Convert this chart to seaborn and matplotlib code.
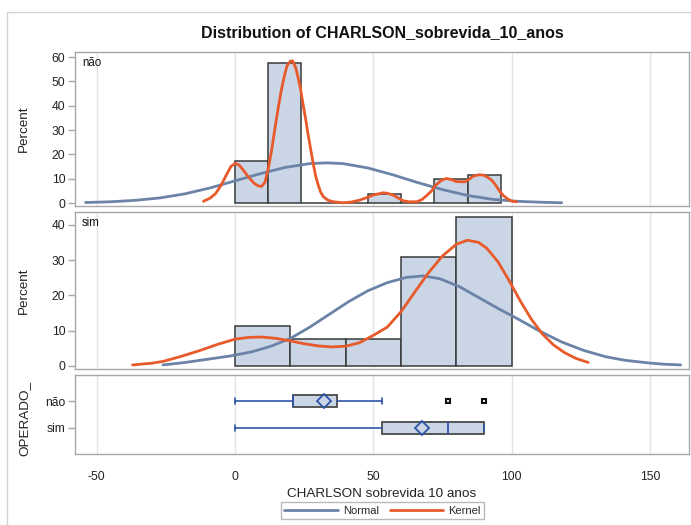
import numpy as np
import matplotlib
matplotlib.use("Agg")
import matplotlib.pyplot as plt
from matplotlib.lines import Line2D
from matplotlib.patches import Rectangle
import seaborn as sns

sns.set_style("white")
plt.rcParams["font.family"] = ["Liberation Sans", "DejaVu Sans"]

# ---- data -------------------------------------------------------------
groups = ["não", "sim"]

# histogram: percent per bin
nao_edges = [0, 12, 24, 36, 48, 60, 72, 84, 96]
nao_pct = [17.2, 57.7, 0.0, 0.0, 3.7, 0.0, 9.7, 11.5]
sim_edges = [0, 20, 40, 60, 80, 100]
sim_pct = [11.3, 7.6, 7.6, 30.8, 42.2]

# fitted normal curves (percent scale)
nao_norm_x = [-54, -45, -36, -27, -18, -9, 0, 9, 18, 27, 33, 39, 48, 57, 66, 75, 84, 93, 102, 111, 118]
nao_norm_y = [0.2, 0.5, 1.1, 2.1, 3.8, 6.2, 9.1, 12.0, 14.6, 16.2, 16.5, 16.2, 14.4, 11.6, 8.4, 5.5, 3.1, 1.5, 0.7, 0.3, 0.1]
sim_norm_x = [-26, -18, -10, -2, 6, 13, 20, 27, 34, 41, 48, 55, 62, 68, 74, 81, 88, 95, 102, 110, 118, 126, 134, 141, 149, 155, 161]
sim_norm_y = [0.3, 1.0, 1.9, 2.8, 4.0, 5.6, 7.8, 11.0, 14.6, 18.2, 21.3, 23.6, 25.1, 25.5, 24.7, 22.5, 19.4, 16.3, 13.4, 9.9, 6.8, 4.4, 2.6, 1.6, 0.9, 0.5, 0.3]

# kernel density curves (percent scale)
nao_kde_x = [-11.4, -9, -7, -5, -3, -1.5, 0, 1.5, 3, 5, 7, 8.5, 9.6, 10.8, 12, 13.2, 14.4, 15.6,
             16.8, 18, 18.8, 20, 20.8, 21.9, 22.8, 23.7, 24.6, 25.5, 26.4, 27.3, 28.2, 29.1, 30,
             30.9, 31.9, 33.5, 35.5, 39.1, 42, 45.1, 48, 50, 53.5, 55, 57.1, 59, 60.8, 63, 65.6,
             67.5, 69.2, 71, 72.5, 74.5, 76.4, 78.5, 80, 83, 84.5, 86, 88, 89.6, 91, 92.7, 94,
             95.7, 97, 98.7, 100, 101.7]
nao_kde_y = [0.7, 2.0, 3.9, 7.3, 11.8, 15.0, 16.3, 15.6, 13.5, 10.5, 8.0, 7.0, 6.8, 8.5, 14.0, 21.5, 30.5, 39.0,
             46.8, 53.0, 56.4, 58.3, 58.4, 55.7, 51.5, 46.8, 40.5, 34.6, 28.2, 22.3, 16.5, 11.3, 7.6,
             4.6, 2.6, 1.2, 0.5, 0.1, 0.4, 1.2, 2.4, 3.3, 4.2, 4.0, 3.3, 2.0, 0.9, 0.5, 0.5,
             1.4, 3.0, 5.0, 7.3, 9.3, 10.1, 9.5, 8.8, 8.7, 9.7, 11.0, 11.6, 11.5, 10.8, 9.4, 7.6,
             4.7, 3.0, 1.5, 0.8, 0.5]
sim_kde_x = [-37, -30, -26, -20, -13, -6, 0, 5, 10, 15, 20, 25, 30, 35, 40, 45, 50, 55, 60, 65, 70,
             75, 80, 84, 88, 91, 95, 99, 103, 107, 111, 115, 119, 123, 127.6]
sim_kde_y = [0.3, 0.8, 1.3, 2.6, 4.3, 6.2, 7.6, 8.1, 8.2, 7.8, 7.1, 6.3, 5.7, 5.4, 5.6, 6.6, 8.7, 11.0,
             15.4, 21.0, 26.5, 31.2, 34.5, 35.6, 35.0, 33.3, 29.5, 24.2, 18.5, 13.3, 9.1, 6.0, 3.8, 2.2, 1.0]

# box plot statistics per group
box_whislo = [0, 0]
box_q1 = [21, 53]
box_med = [21, 77]
box_q3 = [37, 90]
box_whishi = [53, 90]
box_mean = [32.1, 67.4]
box_fliers = [[77, 90], []]

# ---- styling ----------------------------------------------------------
FILL = "#CAD5E5"
EDGE = "#3A3A3A"
NORMAL_C = "#6C83A8"
KERNEL_C = "#E85A2A"
BOX_BLUE = "#2F55A8"
SPINE = "#A8A8A8"
GRID = "#E4E4E4"
XLIM = (-57.8, 164)
XTICKS = [-50, 0, 50, 100, 150]
LW = 2.0

W, H = 691, 525
fig = plt.figure(figsize=(W / 100, H / 100), dpi=100)


def px_box(l, t, r, b):
    return [l / W, 1 - b / H, (r - l) / W, (b - t) / H]


ax1 = fig.add_axes(px_box(75, 52, 689, 206))
ax2 = fig.add_axes(px_box(75, 212, 689, 369))
ax3 = fig.add_axes(px_box(75, 375, 689, 454))

for ax in (ax1, ax2, ax3):
    ax.set_xlim(*XLIM)
    ax.set_xticks(XTICKS)
    ax.grid(axis="x", color=GRID, lw=1)
    ax.grid(axis="y", visible=False)
    ax.set_axisbelow(True)
    for s in ax.spines.values():
        s.set_color(SPINE)
        s.set_linewidth(1)
    ax.tick_params(axis="y", colors=SPINE, labelcolor="#222222", labelsize=8.7,
                   length=5, width=1, left=True, pad=2)

for ax in (ax1, ax2):
    ax.tick_params(axis="x", length=0, labelbottom=False)

# histogram panels
panels = [
    (ax1, nao_edges, nao_pct, nao_norm_x, nao_norm_y, nao_kde_x, nao_kde_y, (-1.23, 62.06), [0, 10, 20, 30, 40, 50, 60], "não"),
    (ax2, sim_edges, sim_pct, sim_norm_x, sim_norm_y, sim_kde_x, sim_kde_y, (-0.85, 43.6), [0, 10, 20, 30, 40], "sim"),
]
for ax, edges, pct, nx, ny, kx, ky, ylim, yticks, lab in panels:
    centers = [(a + b) / 2 for a, b in zip(edges[:-1], edges[1:])]
    sns.histplot(x=centers, weights=pct, bins=edges, ax=ax, color=FILL,
                 edgecolor=EDGE, linewidth=1.1, alpha=1, zorder=2)
    sns.lineplot(x=nx, y=ny, ax=ax, color=NORMAL_C, lw=LW, sort=False,
                 estimator=None, zorder=3)
    sns.lineplot(x=kx, y=ky, ax=ax, color=KERNEL_C, lw=LW, sort=False,
                 estimator=None, zorder=4)
    ax.set_ylim(*ylim)
    ax.set_yticks(yticks)
    ax.set_ylabel("Percent", fontsize=9.7, color="#222222")
    ax.yaxis.set_label_coords((30 - 75) / 614, 0.5)
    ax.set_xlabel("")
    ax.text(7 / 614, 0.965, lab, transform=ax.transAxes, ha="left", va="top",
            fontsize=8.3, color="#111111")

# box plot panel
stats = []
for i, g in enumerate(groups):
    stats.append(dict(label=g, whislo=box_whislo[i], q1=box_q1[i], med=box_med[i],
                      q3=box_q3[i], whishi=box_whishi[i], mean=box_mean[i],
                      fliers=box_fliers[i]))
ax3.bxp(stats, positions=[0, 1], vert=False, widths=0.48, patch_artist=True,
        showmeans=True, capwidths=0.22,
        boxprops=dict(facecolor=FILL, edgecolor="#4A4A4A", linewidth=1.3),
        whiskerprops=dict(color=BOX_BLUE, linewidth=1.2),
        capprops=dict(color=BOX_BLUE, linewidth=1.2),
        medianprops=dict(color=BOX_BLUE, linewidth=1.3),
        meanprops=dict(marker="D", markerfacecolor="none", markeredgecolor=BOX_BLUE,
                       markeredgewidth=1.3, markersize=7.5),
        flierprops=dict(marker="s", markerfacecolor="white", markeredgecolor="#111111",
                        markeredgewidth=1.5, markersize=3.4))
ax3.set_ylim(1.963, -0.963)
ax3.set_yticks([0, 1])
ax3.set_yticklabels(groups)
ax3.set_ylabel("OPERADO_", fontsize=9.7, color="#222222")
ax3.yaxis.set_label_coords((30 - 75) / 614, 0.45)
ax3.set_xticks(XTICKS)
ax3.set_xticklabels(["-50", "0", "50", "100", "150"])
ax3.tick_params(axis="x", colors=SPINE, labelcolor="#222222", labelsize=8.7,
                length=0, pad=12)
ax3.set_xlabel("CHARLSON sobrevida 10 anos", fontsize=9.7, color="#222222", labelpad=4)

fig.text(382 / W, 1 - 33 / H, "Distribution of CHARLSON_sobrevida_10_anos",
         ha="center", va="center", fontsize=11.5, fontweight="bold", color="#111111")

handles = [Line2D([], [], color=NORMAL_C, lw=LW), Line2D([], [], color=KERNEL_C, lw=LW)]
fig.legend(handles, ["Normal", "Kernel"], loc="center", bbox_to_anchor=(382.5 / W, 1 - 510.5 / H),
           ncol=2, fontsize=8, frameon=True, fancybox=False, edgecolor=SPINE,
           handlelength=4.8, handletextpad=0.45, columnspacing=1.0, borderpad=0.3,
           borderaxespad=0)

fig.add_artist(Rectangle((7 / W, -0.05), 1.1, 1.05 - 12.5 / H, transform=fig.transFigure,
                         fill=False, edgecolor="#D3D3D3", lw=1))

fig.savefig("out.png", dpi=100)
